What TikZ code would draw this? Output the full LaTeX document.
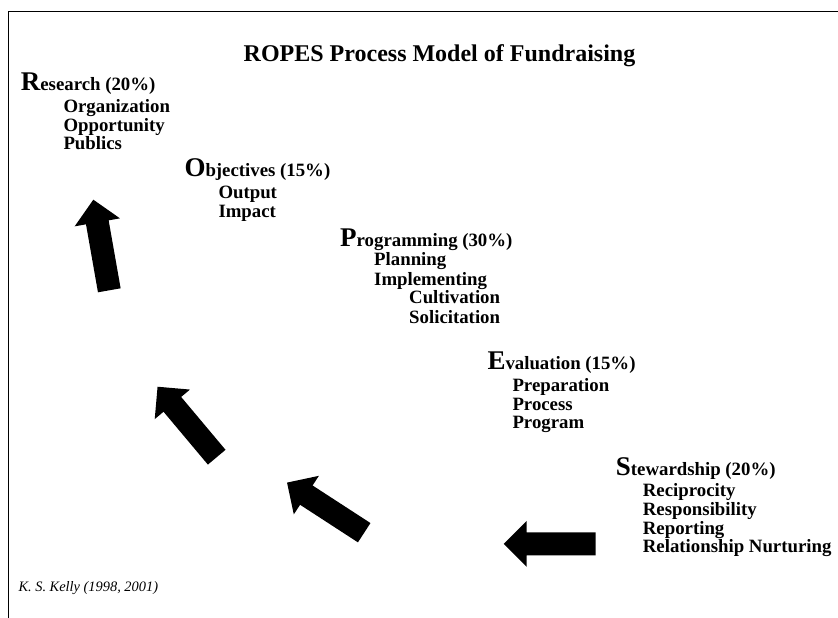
\documentclass[tikz,border=0pt]{standalone}
\usepackage{fontspec}
\setmainfont{Liberation Serif}

% large initial letter of each stage heading
\newcommand\StageInitial[1]{{\fontsize{27}{27}\selectfont #1}}

\begin{document}
\begin{tikzpicture}[x=1pt,y=-1pt,
  title/.style={inner sep=0pt, anchor=base, font=\bfseries\fontsize{24}{24}\selectfont},
  stage/.style={inner sep=0pt, anchor=base west, font=\bfseries\fontsize{18.8}{18.8}\selectfont},
  item/.style={inner sep=0pt, anchor=base west, font=\bfseries\fontsize{18.8}{18.8}\selectfont},
  credit/.style={inner sep=0pt, anchor=base west, font=\itshape\fontsize{14.4}{14.4}\selectfont},
  fatarrow/.pic={
    \fill (0,-11.5) -- (69,-11.5) -- (69,-23) -- (92,0) -- (69,23) -- (69,11.5) -- (0,11.5) -- cycle;
  }]
\useasboundingbox (0,0) rectangle (838,618);

% frame
\draw[line width=0.9pt] (838,11) -- (8,11) -- (8,618);

% title
\node[title] (title) at (439.5,61.5) {ROPES Process Model of Fundraising};

% Research
\node[stage] (res) at (20.7,90.7) {\StageInitial{R}esearch (20\%)};
\node[item] (res1) at (63.3,112.8) {Organization};
\node[item] (res2) at (63.3,131) {Opportunity};
\node[item] (res3) at (63.3,149.3) {Publics};

% Objectives
\node[stage] (obj) at (184.3,176) {\StageInitial{O}bjectives (15\%)};
\node[item] (obj1) at (218.3,198.3) {Output};
\node[item] (obj2) at (218.3,217.3) {Impact};

% Programming
\node[stage] (prg) at (340,246) {\StageInitial{P}rogramming (30\%)};
\node[item] (prg1) at (374,265.3) {Planning};
\node[item] (prg2) at (374,285) {Implementing};
\node[item] (prg3) at (409,303.6) {Cultivation};
\node[item] (prg4) at (409,323) {Solicitation};

% Evaluation
\node[stage] (eva) at (487.3,369) {\StageInitial{E}valuation (15\%)};
\node[item] (eva1) at (512.3,391) {Preparation};
\node[item] (eva2) at (512.3,410) {Process};
\node[item] (eva3) at (512.3,428.3) {Program};

% Stewardship
\node[stage] (ste) at (615.7,475) {\StageInitial{S}tewardship (20\%)};
\node[item] (ste1) at (642.7,496.7) {Reciprocity};
\node[item] (ste2) at (642.7,515) {Responsibility};
\node[item] (ste3) at (642.7,534) {Reporting};
\node[item] (ste4) at (642.7,552.7) {Relationship Nurturing};

% cycle arrows
\pic[rotate=180] at (595.7,543.8) {fatarrow};
\pic[rotate=147] at (364.2,532.7) {fatarrow};
\pic[rotate=130] at (216.7,457.2) {fatarrow};
\pic[rotate=100] at (109.3,290.3) {fatarrow};

% source
\node[credit] (src) at (18.3,591.7) {K. S. Kelly (1998, 2001)};
\end{tikzpicture}
\end{document}
